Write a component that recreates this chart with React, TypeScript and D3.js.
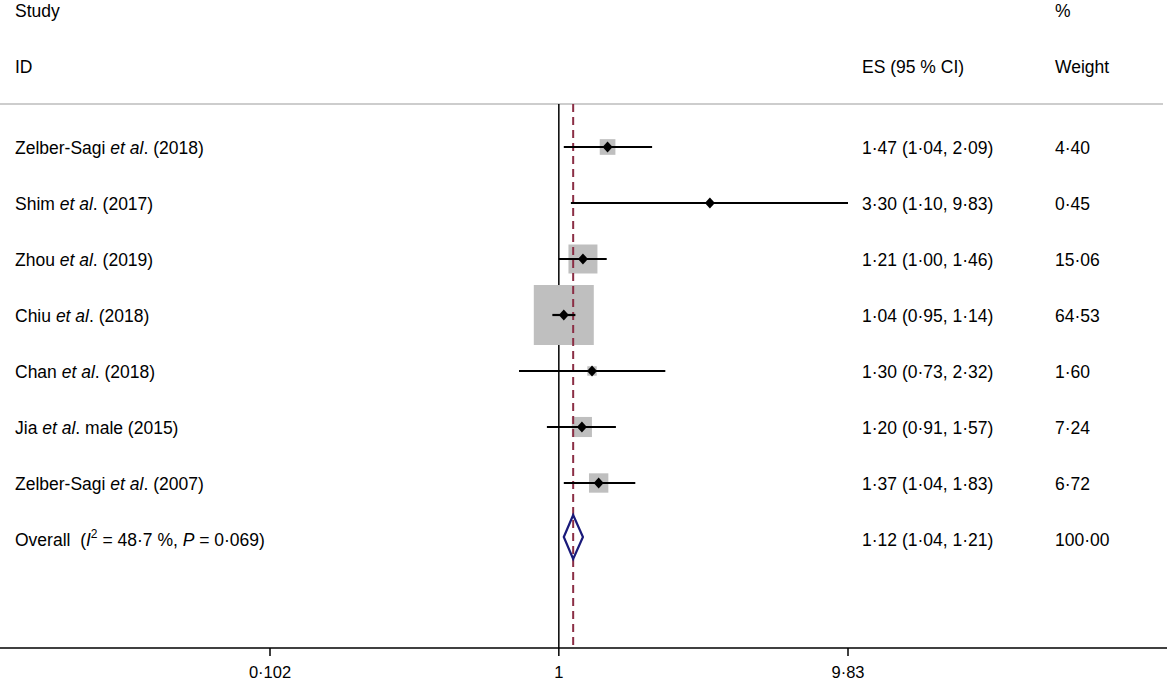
import React from "react";
import * as d3 from "d3";

const studies = ["Zelber-Sagi", "Shim", "Zhou", "Chiu", "Chan", "Jia", "Zelber-Sagi"];
const suffixes = [" (2018)", " (2017)", " (2019)", " (2018)", " (2018)", " male (2015)", " (2007)"];
const es = [1.47, 3.30, 1.21, 1.04, 1.30, 1.20, 1.37];
const lower = [1.04, 1.10, 1.00, 0.95, 0.73, 0.91, 1.04];
const upper = [2.09, 9.83, 1.46, 1.14, 2.32, 1.57, 1.83];
const weights = [4.40, 0.45, 15.06, 64.53, 1.60, 7.24, 6.72];
const overall = { es: 1.12, lo: 1.04, hi: 1.21, weight: 100.0 };
const tickValues = [0.102, 1, 9.83];

const fmt = (v: number, d = 2) => v.toFixed(d).replace(".", "·");

export default function App() {
  const W = 1167, H = 680;
  const x = d3.scaleLog().domain([0.102, 9.83]).range([270, 848]);
  const rowY = d3.scaleLinear().domain([0, 1]).range([147, 203]);
  const maxW = d3.max(weights) as number;
  const boxSize = d3.scaleSqrt().domain([0, maxW]).range([0, 60]);
  const font = "'Liberation Sans', Arial, Helvetica, sans-serif";
  const fs = 17.5;
  const dy = 7;
  const yTop = 104, yAxis = 648;
  const oy = rowY(studies.length);
  const dashX = x(overall.es);
  return (
    <svg width={W} height={H} style={{ position: "absolute", left: 0, top: 0, background: "#fff" }} fontFamily={font} fontSize={fs}>
      <text x={15} y={17} fill="#000">Study</text>
      <text x={15} y={73} fill="#000">ID</text>
      <text x={862} y={73} fill="#000">ES (95 % CI)</text>
      <text x={1055} y={17} fill="#000">%</text>
      <text x={1055} y={73} fill="#000">Weight</text>
      <line x1={0} x2={1163} y1={yTop} y2={yTop} stroke="#bdbdbd" strokeWidth={1.5} />
      {/* null line */}
      <line x1={x(1)} x2={x(1)} y1={yTop} y2={yAxis} stroke="#000" strokeWidth={1.5} />
      {studies.map((s, i) => {
        const y = rowY(i);
        const b = boxSize(weights[i]);
        return (
          <g key={i}>
            <text x={15} y={y + dy} fill="#000">
              {s} <tspan fontStyle="italic">et al</tspan>.{suffixes[i]}
            </text>
            <rect x={x(es[i]) - b / 2} y={y - b / 2} width={b} height={b} fill="#bfbfbf" />
          </g>
        );
      })}
      {/* overall dashed line */}
      <line x1={dashX} x2={dashX} y1={yTop} y2={yAxis} stroke="#8b2e45" strokeWidth={2} strokeDasharray="8,5" />
      {studies.map((s, i) => {
        const y = rowY(i);
        const cx = x(es[i]);
        return (
          <g key={"ci" + i}>
            <line x1={x(lower[i])} x2={x(upper[i])} y1={y} y2={y} stroke="#000" strokeWidth={2.2} />
            <path d={`M${cx - 5},${y} L${cx},${y - 5.5} L${cx + 5},${y} L${cx},${y + 5.5} Z`} fill="#000" />
            <text x={862} y={y + dy} fill="#000">
              {fmt(es[i])} ({fmt(lower[i])}, {fmt(upper[i])})
            </text>
            <text x={1055} y={y + dy} fill="#000">{fmt(weights[i])}</text>
          </g>
        );
      })}
      {/* overall */}
      <text x={15} y={oy + dy} fill="#000" style={{ whiteSpace: "pre" }}>
        {"Overall  ("}<tspan fontStyle="italic">I</tspan><tspan dy={-8} fontSize={12}>2</tspan><tspan dy={8}>{" = 48·7 %, "}</tspan><tspan fontStyle="italic">P</tspan>{" = 0·069)"}
      </text>
      <path
        d={`M${x(overall.lo)},${oy - 2} L${x(overall.es)},${oy - 24} L${x(overall.hi)},${oy - 2} L${x(overall.es)},${oy + 20} Z`}
        fill="none" stroke="#1a1a7a" strokeWidth={2.2}
      />
      <text x={862} y={oy + dy} fill="#000">
        {fmt(overall.es)} ({fmt(overall.lo)}, {fmt(overall.hi)})
      </text>
      <text x={1055} y={oy + dy} fill="#000">{fmt(overall.weight)}</text>
      {/* axis */}
      <line x1={0} x2={W} y1={yAxis} y2={yAxis} stroke="#000" strokeWidth={1.5} />
      {tickValues.map((t, i) => (
        <g key={"t" + i}>
          <line x1={x(t)} x2={x(t)} y1={yAxis} y2={yAxis + 8} stroke="#000" strokeWidth={1.5} />
          <text x={x(t)} y={yAxis + 30} textAnchor="middle" fill="#000" fontSize={16.5}>
            {t === 1 ? "1" : String(t).replace(".", "·")}
          </text>
        </g>
      ))}
    </svg>
  );
}
